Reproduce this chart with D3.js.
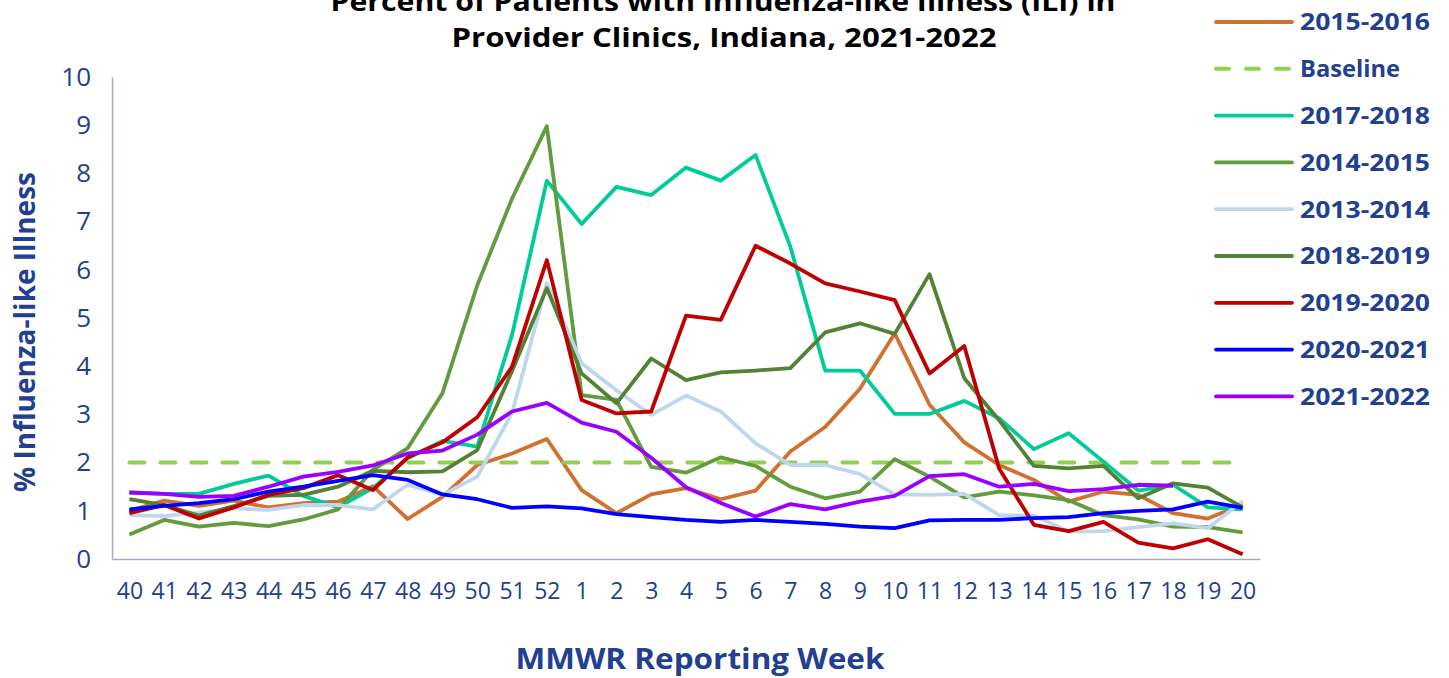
<!DOCTYPE html>
<html>
<head>
<meta charset="utf-8">
<script src="https://cdn.jsdelivr.net/npm/d3@7"></script>
<style>
  html, body { margin: 0; padding: 0; background: #fff; }
  svg { display: block; }
</style>
</head>
<body>
<svg id="chart" width="1449" height="678"></svg>
<script>
const weeks = ["40","41","42","43","44","45","46","47","48","49","50","51","52","1","2","3","4","5","6","7","8","9","10","11","12","13","14","15","16","17","18","19","20"];
const yTicks = [0,1,2,3,4,5,6,7,8,9,10];

const s2015_2016 = [1.0,1.21,1.1,1.21,1.07,1.16,1.19,1.51,0.83,1.29,1.95,2.19,2.49,1.43,0.95,1.34,1.47,1.24,1.42,2.23,2.74,3.53,4.68,3.2,2.42,1.95,1.64,1.19,1.4,1.33,0.95,0.84,1.13];
const baseline   = [2.0,2.0,2.0,2.0,2.0,2.0,2.0,2.0,2.0,2.0,2.0,2.0,2.0,2.0,2.0,2.0,2.0,2.0,2.0,2.0,2.0,2.0,2.0,2.0,2.0,2.0,2.0,2.0,2.0,2.0,2.0,2.0,2.0];
const s2017_2018 = [1.38,1.35,1.35,1.56,1.73,1.31,1.07,1.47,2.09,2.45,2.33,4.65,7.85,6.95,7.72,7.55,8.12,7.85,8.38,6.48,3.91,3.91,3.01,3.01,3.28,2.92,2.28,2.61,2.02,1.42,1.54,1.07,1.03];
const s2014_2015 = [0.51,0.81,0.67,0.75,0.68,0.82,1.03,1.85,2.3,3.44,5.68,7.48,8.98,3.4,3.3,1.91,1.79,2.11,1.93,1.5,1.26,1.4,2.07,1.71,1.28,1.4,1.32,1.22,0.91,0.82,0.67,0.66,0.55];
const s2013_2014 = [0.91,0.89,0.96,1.05,1.02,1.12,1.12,1.03,1.54,1.33,1.71,3.03,5.72,4.06,3.5,2.99,3.39,3.06,2.4,1.95,1.95,1.76,1.34,1.33,1.35,0.91,0.9,0.57,0.58,0.66,0.74,0.64,1.2];
const s2018_2019 = [1.24,1.12,0.9,1.1,1.31,1.33,1.5,1.83,1.8,1.82,2.26,3.9,5.62,3.85,3.23,4.16,3.71,3.87,3.91,3.96,4.7,4.89,4.67,5.91,3.75,2.88,1.93,1.88,1.93,1.26,1.57,1.48,1.07];
const s2019_2020 = [0.95,1.12,0.84,1.07,1.33,1.47,1.74,1.43,2.11,2.42,2.94,3.99,6.2,3.3,3.02,3.06,5.05,4.96,6.5,6.13,5.72,5.55,5.37,3.85,4.42,1.88,0.71,0.58,0.77,0.34,0.22,0.41,0.1];
const s2020_2021 = [1.03,1.1,1.16,1.24,1.4,1.5,1.62,1.74,1.64,1.34,1.24,1.06,1.09,1.05,0.93,0.87,0.81,0.77,0.81,0.77,0.73,0.67,0.64,0.8,0.81,0.81,0.85,0.87,0.95,1.0,1.03,1.19,1.06];
const s2021_2022 = [1.38,1.35,1.29,1.31,1.5,1.71,1.81,1.94,2.19,2.25,2.58,3.06,3.24,2.83,2.64,2.1,1.49,1.16,0.88,1.14,1.03,1.19,1.31,1.72,1.76,1.5,1.56,1.41,1.45,1.54,1.52];

const seriesNames = ["2015-2016","Baseline","2017-2018","2014-2015","2013-2014","2018-2019","2019-2020","2020-2021","2021-2022"];
const seriesValues = [s2015_2016, baseline, s2017_2018, s2014_2015, s2013_2014, s2018_2019, s2019_2020, s2020_2021, s2021_2022];
const seriesColors = ["#D2702F","#92D050","#00CC99","#629C3E","#BDD7EE","#548235","#C00000","#0000FF","#9900FF"];

const textBlue = "#22408F";
const font = "'Open Sans', 'Noto Sans', sans-serif";

const svg = d3.select("#chart");
const plotLeft = 112, plotRight = 1260, plotTop = 77, plotBottom = 559;

const x = d3.scalePoint().domain(weeks).range([plotLeft, plotRight]).padding(0.5);
const y = d3.scaleLinear().domain([0, 10]).range([plotBottom, plotTop]);

// Title
const title = svg.append("g").attr("font-family", font).attr("font-weight", 700).attr("fill", "#000").attr("text-anchor", "middle");
title.append("text").attr("x", 723).attr("y", 11).attr("font-size", 27)
  .attr("textLength", 785).attr("lengthAdjust", "spacingAndGlyphs")
  .text("Percent of Patients with Influenza-like Illness (ILI) in");
title.append("text").attr("x", 724).attr("y", 47).attr("font-size", 27)
  .attr("textLength", 545).attr("lengthAdjust", "spacingAndGlyphs")
  .text("Provider Clinics, Indiana, 2021-2022");

// Axes
const yAxis = svg.append("g").attr("transform", `translate(${plotLeft},0)`)
  .call(d3.axisLeft(y).tickValues(yTicks).tickSize(0).tickPadding(21));
yAxis.select(".domain").attr("stroke", "#A6A8C8").attr("stroke-width", 1.5);
yAxis.selectAll("text").attr("font-family", font).attr("font-size", 26).attr("fill", textBlue);

const xAxis = svg.append("g").attr("transform", `translate(0,${plotBottom})`)
  .call(d3.axisBottom(x).tickSize(0).tickSizeOuter(0).tickPadding(24));
xAxis.select(".domain").attr("stroke", "#A6A8C8").attr("stroke-width", 1.5);
xAxis.selectAll("text").attr("font-family", font).attr("font-size", 23).attr("fill", textBlue);

// Axis titles
svg.append("text").attr("x", 700).attr("y", 669).attr("text-anchor", "middle")
  .attr("font-family", font).attr("font-weight", 700).attr("font-size", 28).attr("fill", textBlue)
  .attr("textLength", 369).attr("lengthAdjust", "spacingAndGlyphs")
  .text("MMWR Reporting Week");
svg.append("text").attr("transform", "translate(35,332) rotate(-90)").attr("text-anchor", "middle")
  .attr("font-family", font).attr("font-weight", 700).attr("font-size", 28).attr("fill", textBlue)
  .attr("textLength", 320).attr("lengthAdjust", "spacingAndGlyphs")
  .text("% Influenza-like Illness");

// Lines
const line = d3.line().x((d, i) => x(weeks[i])).y(d => y(d));
const linesG = svg.append("g").attr("fill", "none");
seriesValues.forEach((vals, k) => {
  const p = linesG.append("path").datum(vals).attr("d", line)
    .attr("stroke", seriesColors[k]).attr("stroke-width", 3.8)
    .attr("stroke-linejoin", "round");
  if (seriesNames[k] === "Baseline") {
    p.attr("stroke-dasharray", "15,16").attr("stroke-width", 4).attr("stroke-linecap", "round");
  }
});

// Legend
const lg = svg.append("g");
seriesNames.forEach((name, k) => {
  const yy = 22 + k * 46.8;
  const l = lg.append("line").attr("x1", 1216).attr("x2", 1292).attr("y1", yy).attr("y2", yy)
    .attr("stroke", seriesColors[k]).attr("stroke-width", 3.8).attr("stroke-linecap", "round");
  if (name === "Baseline") l.attr("stroke-dasharray", "13,17").attr("stroke-width", 4);
  lg.append("text").attr("x", 1300).attr("y", yy).attr("dy", "0.35em")
    .attr("font-family", font).attr("font-weight", 700).attr("font-size", 24).attr("fill", textBlue)
    .attr("textLength", name === "Baseline" ? 100 : 130).attr("lengthAdjust", "spacingAndGlyphs")
    .text(name);
});
</script>
</body>
</html>
